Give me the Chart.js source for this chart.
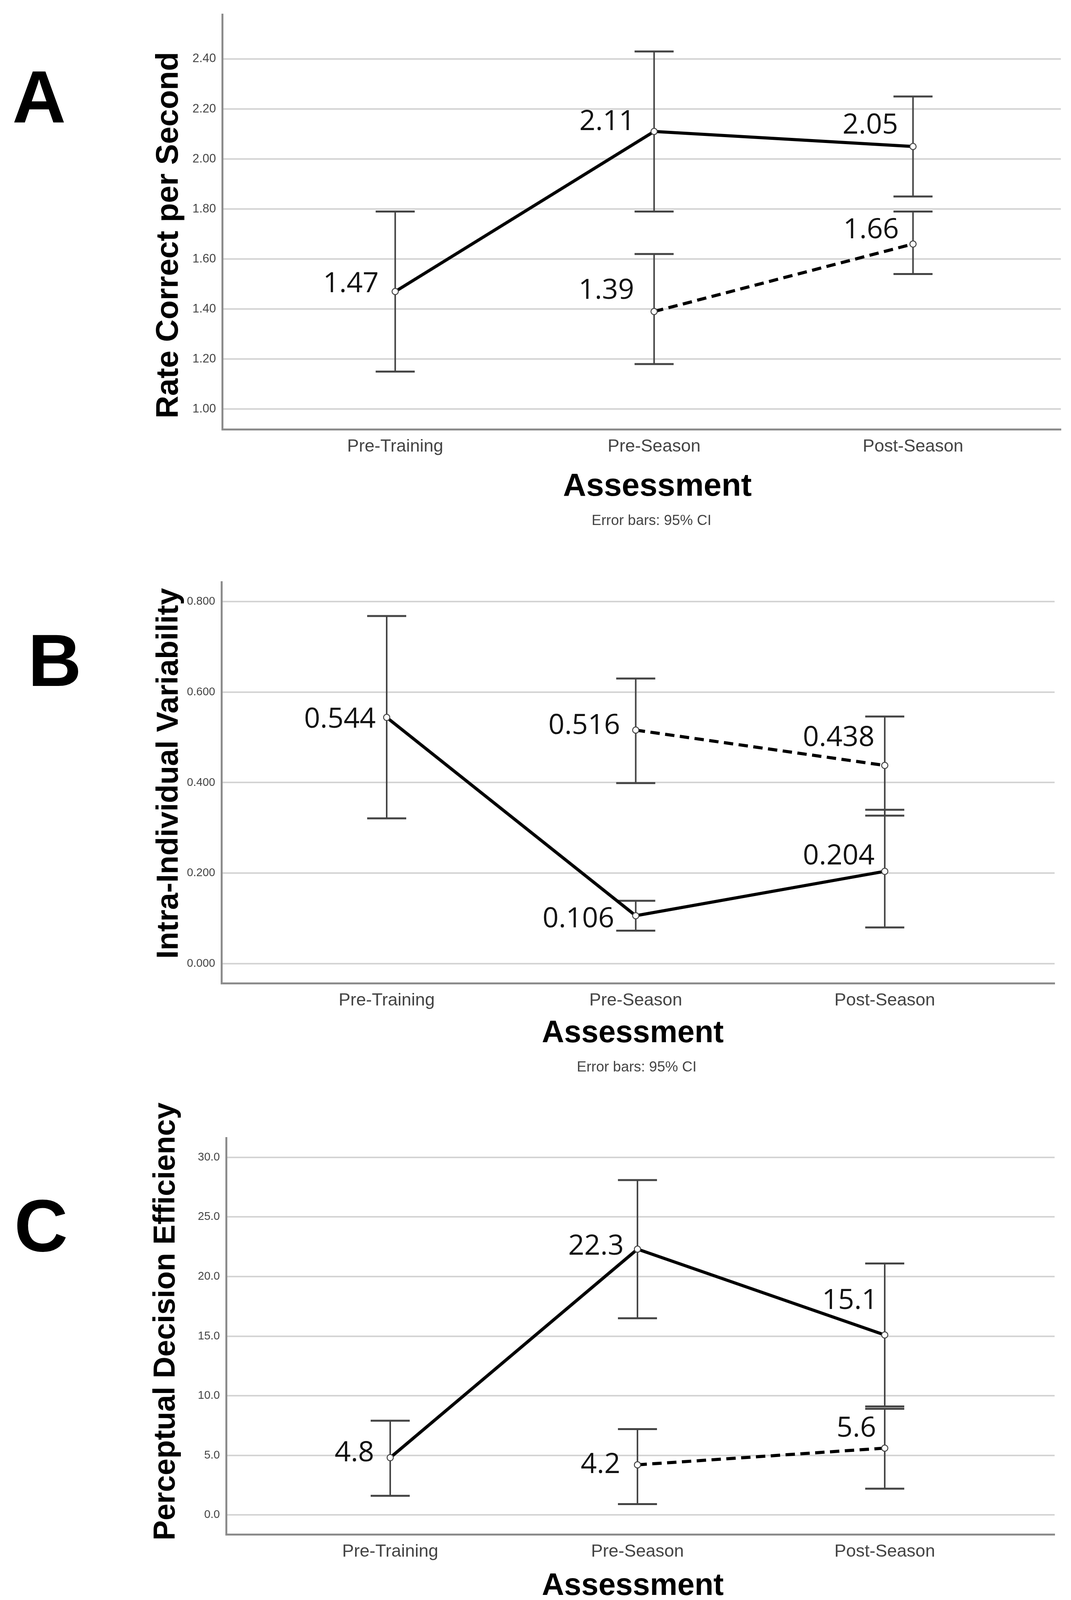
<!DOCTYPE html>
<html><head><meta charset="utf-8">
<script src="https://cdn.jsdelivr.net/npm/chart.js@4.4.1/dist/chart.umd.min.js"></script>
<style>
html,body{margin:0;padding:0;background:#fff;width:2742px;height:4182px;overflow:hidden}
canvas{position:absolute;left:0}
</style></head>
<body>
<canvas id="cA" width="2742" height="1400" style="top:0px;width:2742px;height:1400px"></canvas>
<canvas id="cB" width="2742" height="1390" style="top:1400px;width:2742px;height:1390px"></canvas>
<canvas id="cC" width="2742" height="1392" style="top:2790px;width:2742px;height:1392px"></canvas>
<script>
// ---------- DATA ----------
const categories = ['Pre-Training', 'Pre-Season', 'Post-Season'];

// Panel A: Rate Correct per Second
const aSolid    = [1.47, 2.11, 2.05];
const aSolidLo  = [1.15, 1.79, 1.85];
const aSolidHi  = [1.79, 2.43, 2.25];
const aDashed   = [null, 1.39, 1.66];
const aDashedLo = [null, 1.18, 1.54];
const aDashedHi = [null, 1.62, 1.79];
const aTicks    = [1.00, 1.20, 1.40, 1.60, 1.80, 2.00, 2.20, 2.40];

// Panel B: Intra-Individual Variability
const bSolid    = [0.544, 0.106, 0.204];
const bSolidLo  = [0.321, 0.073, 0.080];
const bSolidHi  = [0.768, 0.139, 0.340];
const bDashed   = [null, 0.516, 0.438];
const bDashedLo = [null, 0.399, 0.327];
const bDashedHi = [null, 0.630, 0.546];
const bTicks    = [0.000, 0.200, 0.400, 0.600, 0.800];

// Panel C: Perceptual Decision Efficiency
const cSolid    = [4.8, 22.3, 15.1];
const cSolidLo  = [1.6, 16.5, 9.1];
const cSolidHi  = [7.9, 28.1, 21.1];
const cDashed   = [null, 4.2, 5.6];
const cDashedLo = [null, 0.9, 2.2];
const cDashedHi = [null, 7.2, 8.9];
const cTicks    = [0.0, 5.0, 10.0, 15.0, 20.0, 25.0, 30.0];

// ---------- LAYOUT / STYLE ----------
const FONT = '"Liberation Sans", Arial, sans-serif';
const LABEL_FONT = '"Open Sans", "Noto Sans", sans-serif';

function makePanel(id, p) {
  const canvas = document.getElementById(id);
  const H = canvas.height, W = canvas.width;
  const toPts = arr => arr.map((v, i) => ({x: i, y: v}));

  const errorBars = {
    id: 'errorBars',
    beforeDatasetsDraw(chart) {
      const {ctx, scales: {x, y}} = chart;
      ctx.save();
      ctx.strokeStyle = '#444';
      [[p.solidLo, p.solidHi], [p.dashedLo, p.dashedHi]].forEach(([lo, hi]) => {
        lo.forEach((l, i) => {
          if (l == null || hi[i] == null) return;
          const px = x.getPixelForValue(i);
          const yl = y.getPixelForValue(l), yh = y.getPixelForValue(hi[i]);
          ctx.lineWidth = 4;
          ctx.beginPath(); ctx.moveTo(px, yl); ctx.lineTo(px, yh); ctx.stroke();
          ctx.lineWidth = 5;
          ctx.beginPath();
          ctx.moveTo(px - 50, yl); ctx.lineTo(px + 50, yl);
          ctx.moveTo(px - 50, yh); ctx.lineTo(px + 50, yh);
          ctx.stroke();
        });
      });
      ctx.restore();
    },
    afterDatasetsDraw(chart) {
      const ctx = chart.ctx;
      ctx.save();
      ctx.fillStyle = '#111';
      ctx.font = '72px ' + LABEL_FONT;
      ctx.textAlign = 'right';
      ctx.textBaseline = 'alphabetic';
      [[p.solid, p.solidOff], [p.dashed, p.dashedOff]].forEach(([vals, offs], d) => {
        const meta = chart.getDatasetMeta(d);
        vals.forEach((v, i) => {
          if (v == null) return;
          const pt = meta.data[i];
          ctx.fillText(v.toFixed(p.dec), pt.x + offs[i][0], pt.y + offs[i][1]);
        });
      });
      ctx.restore();
    },
    afterDraw(chart) {
      const ctx = chart.ctx;
      ctx.save();
      ctx.fillStyle = '#000';
      ctx.font = 'bold 190px ' + FONT;
      ctx.textAlign = 'center'; ctx.textBaseline = 'alphabetic';
      ctx.fillText(p.letter, p.letterPos[0], p.letterPos[1]);
      ctx.save();
      ctx.translate(p.yTitlePos[0], p.yTitlePos[1]);
      ctx.rotate(-Math.PI / 2);
      ctx.font = 'bold ' + p.yTitleSize + 'px ' + FONT;
      ctx.fillText(p.yTitle, 0, 0);
      ctx.restore();
      ctx.font = 'bold ' + p.xTitleSize + 'px ' + FONT;
      ctx.fillText('Assessment', p.xTitlePos[0], p.xTitlePos[1]);
      ctx.fillStyle = '#444';
      ctx.font = '37px ' + FONT;
      ctx.fillText('Error bars: 95% CI', p.notePos[0], p.notePos[1]);
      ctx.restore();
    }
  };

  const area = p.area; // [left, top, right, bottom]
  return new Chart(canvas, {
    type: 'line',
    data: {
      datasets: [
        {data: toPts(p.solid), borderColor: '#000', borderWidth: 8,
         pointRadius: 8, pointBorderWidth: 2.5, pointBorderColor: '#444', pointBackgroundColor: '#fff'},
        {data: toPts(p.dashed), borderColor: '#000', borderWidth: 8, borderDash: [24, 14],
         pointRadius: 8, pointBorderWidth: 2.5, pointBorderColor: '#444', pointBackgroundColor: '#fff'}
      ]
    },
    options: {
      responsive: false, animation: false, devicePixelRatio: 1,
      layout: {padding: {left: 0, top: area[1], right: W - area[2], bottom: 0}},
      plugins: {legend: {display: false}, tooltip: {enabled: false}},
      scales: {
        x: {
          type: 'linear', min: p.xRange[0], max: p.xRange[1],
          afterBuildTicks: s => { s.ticks = categories.map((c, i) => ({value: i})); },
          afterFit: s => { s.height = H - area[3]; },
          ticks: {callback: v => categories[v] ?? '', color: '#444', padding: 18,
                  font: {family: FONT, size: 45}, maxRotation: 0, autoSkip: false},
          grid: {display: false, drawTicks: false},
          border: {display: true, color: '#8c8c8c', width: 5}
        },
        y: {
          min: p.yRange[0], max: p.yRange[1],
          afterBuildTicks: s => { s.ticks = p.ticks.map(v => ({value: v})); },
          afterFit: s => { s.width = area[0]; },
          ticks: {callback: v => Number(v).toFixed(p.dec), color: '#444', padding: 16,
                  font: {family: FONT, size: p.tickSize}},
          grid: {color: '#d4d4d4', lineWidth: 4, drawTicks: false},
          border: {display: true, color: '#8c8c8c', width: 5}
        }
      }
    },
    plugins: [errorBars]
  });
}

makePanel('cA', {
  letter: 'A', letterPos: [100, 313],
  yTitle: 'Rate Correct per Second', yTitleSize: 80, yTitlePos: [455, 602],
  xTitleSize: 82, xTitlePos: [1683, 1269], notePos: [1668, 1344],
  area: [569, 37, 2716, 1099], xRange: [-0.668, 2.571], yRange: [0.919, 2.578],
  ticks: aTicks, dec: 2, tickSize: 31,
  solid: aSolid, solidLo: aSolidLo, solidHi: aSolidHi,
  dashed: aDashed, dashedLo: aDashedLo, dashedHi: aDashedHi,
  solidOff: [[-42, 2], [-49, -4], [-38, -33]],
  dashedOff: [null, [-51, -32], [-36, -15]]
});

makePanel('cB', {
  letter: 'B', letterPos: [140, 356],
  yTitle: 'Intra-Individual Variability', yTitleSize: 78, yTitlePos: [455, 580],
  xTitleSize: 79, xTitlePos: [1620, 1268], notePos: [1630, 1343],
  area: [567, 90, 2700, 1117], xRange: [-0.6635, 2.682], yRange: [-0.0431, 0.8431],
  ticks: bTicks, dec: 3, tickSize: 29,
  solid: bSolid, solidLo: bSolidLo, solidHi: bSolidHi,
  dashed: bDashed, dashedLo: bDashedLo, dashedHi: bDashedHi,
  solidOff: [[-28, 26], [-55, 30], [-26, -18]],
  dashedOff: [null, [-40, 10], [-26, -49]]
});

makePanel('cC', {
  letter: 'C', letterPos: [105, 413],
  yTitle: 'Perceptual Decision Efficiency', yTitleSize: 77, yTitlePos: [447, 593],
  xTitleSize: 79, xTitlePos: [1620, 1293], notePos: [1632, 1371],
  area: [579, 123, 2700, 1138], xRange: [-0.6635, 2.687], yRange: [-1.639, 31.639],
  ticks: cTicks, dec: 1, tickSize: 29,
  solid: cSolid, solidLo: cSolidLo, solidHi: cSolidHi,
  dashed: cDashed, dashedLo: cDashedLo, dashedHi: cDashedHi,
  solidOff: [[-41, 9], [-35, 14], [-18, -66]],
  dashedOff: [null, [-44, 21], [-22, -29]]
});
</script>
</body></html>
